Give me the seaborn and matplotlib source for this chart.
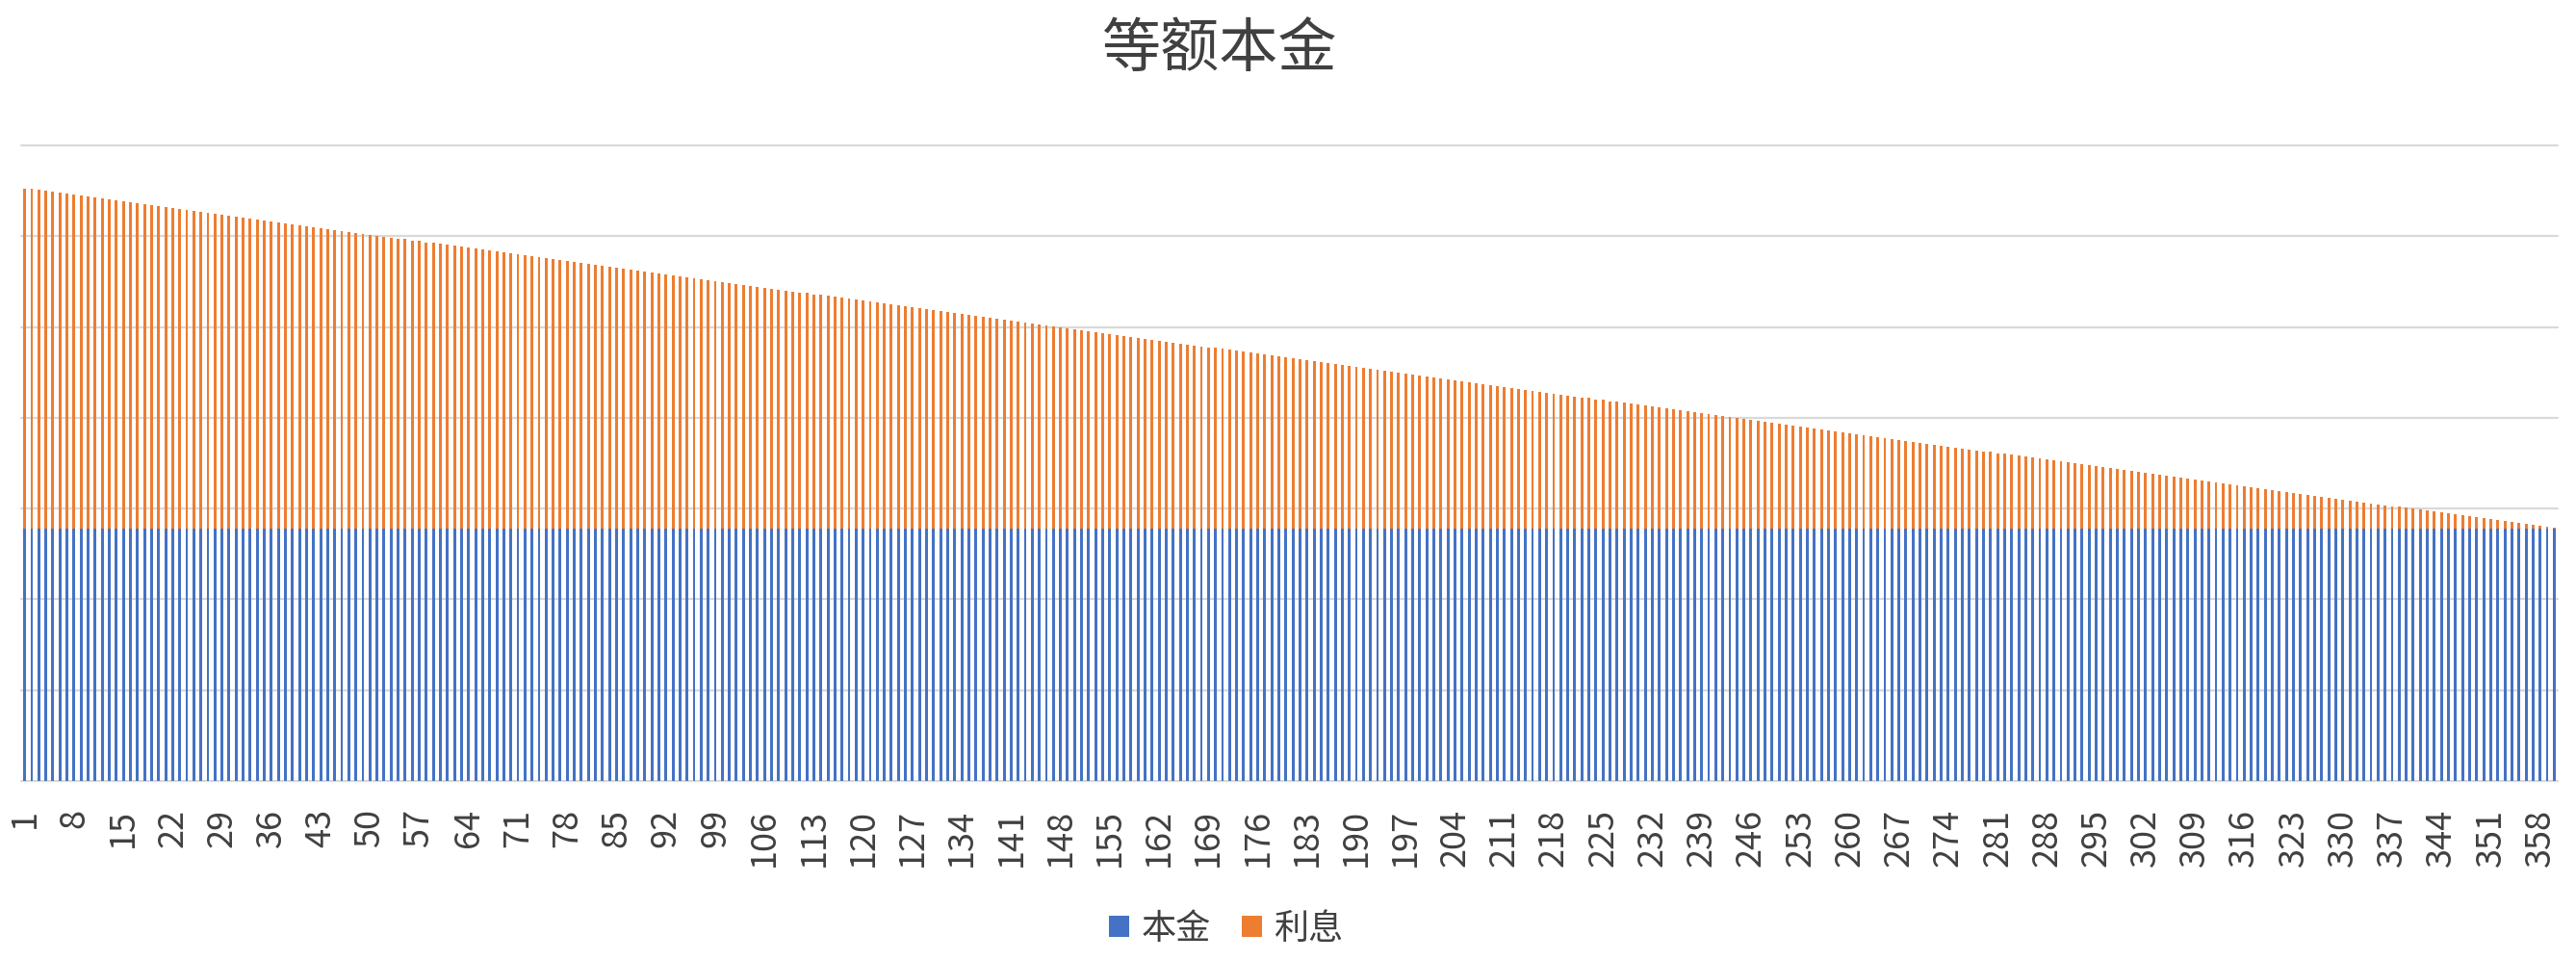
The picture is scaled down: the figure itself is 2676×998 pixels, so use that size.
import matplotlib
matplotlib.use("Agg")
import matplotlib.pyplot as plt
from matplotlib.patches import Patch
import seaborn as sns
import pandas as pd

# ---------------- data ----------------
title = "等额本金"
series_names = ["本金", "利息"]
months = list(range(1, 361))

principal = [
    2778, 2778, 2778, 2778, 2778, 2778, 2778, 2778, 2778, 2778, 2778, 2778,
    2778, 2778, 2778, 2778, 2778, 2778, 2778, 2778, 2778, 2778, 2778, 2778,
    2778, 2778, 2778, 2778, 2778, 2778, 2778, 2778, 2778, 2778, 2778, 2778,
    2778, 2778, 2778, 2778, 2778, 2778, 2778, 2778, 2778, 2778, 2778, 2778,
    2778, 2778, 2778, 2778, 2778, 2778, 2778, 2778, 2778, 2778, 2778, 2778,
    2778, 2778, 2778, 2778, 2778, 2778, 2778, 2778, 2778, 2778, 2778, 2778,
    2778, 2778, 2778, 2778, 2778, 2778, 2778, 2778, 2778, 2778, 2778, 2778,
    2778, 2778, 2778, 2778, 2778, 2778, 2778, 2778, 2778, 2778, 2778, 2778,
    2778, 2778, 2778, 2778, 2778, 2778, 2778, 2778, 2778, 2778, 2778, 2778,
    2778, 2778, 2778, 2778, 2778, 2778, 2778, 2778, 2778, 2778, 2778, 2778,
    2778, 2778, 2778, 2778, 2778, 2778, 2778, 2778, 2778, 2778, 2778, 2778,
    2778, 2778, 2778, 2778, 2778, 2778, 2778, 2778, 2778, 2778, 2778, 2778,
    2778, 2778, 2778, 2778, 2778, 2778, 2778, 2778, 2778, 2778, 2778, 2778,
    2778, 2778, 2778, 2778, 2778, 2778, 2778, 2778, 2778, 2778, 2778, 2778,
    2778, 2778, 2778, 2778, 2778, 2778, 2778, 2778, 2778, 2778, 2778, 2778,
    2778, 2778, 2778, 2778, 2778, 2778, 2778, 2778, 2778, 2778, 2778, 2778,
    2778, 2778, 2778, 2778, 2778, 2778, 2778, 2778, 2778, 2778, 2778, 2778,
    2778, 2778, 2778, 2778, 2778, 2778, 2778, 2778, 2778, 2778, 2778, 2778,
    2778, 2778, 2778, 2778, 2778, 2778, 2778, 2778, 2778, 2778, 2778, 2778,
    2778, 2778, 2778, 2778, 2778, 2778, 2778, 2778, 2778, 2778, 2778, 2778,
    2778, 2778, 2778, 2778, 2778, 2778, 2778, 2778, 2778, 2778, 2778, 2778,
    2778, 2778, 2778, 2778, 2778, 2778, 2778, 2778, 2778, 2778, 2778, 2778,
    2778, 2778, 2778, 2778, 2778, 2778, 2778, 2778, 2778, 2778, 2778, 2778,
    2778, 2778, 2778, 2778, 2778, 2778, 2778, 2778, 2778, 2778, 2778, 2778,
    2778, 2778, 2778, 2778, 2778, 2778, 2778, 2778, 2778, 2778, 2778, 2778,
    2778, 2778, 2778, 2778, 2778, 2778, 2778, 2778, 2778, 2778, 2778, 2778,
    2778, 2778, 2778, 2778, 2778, 2778, 2778, 2778, 2778, 2778, 2778, 2778,
    2778, 2778, 2778, 2778, 2778, 2778, 2778, 2778, 2778, 2778, 2778, 2778,
    2778, 2778, 2778, 2778, 2778, 2778, 2778, 2778, 2778, 2778, 2778, 2778,
    2778, 2778, 2778, 2778, 2778, 2778, 2778, 2778, 2778, 2778, 2778, 2778,
]

interest = [
    3750, 3740, 3729, 3719, 3708, 3698, 3688, 3677, 3667, 3656, 3646, 3635,
    3625, 3615, 3604, 3594, 3583, 3573, 3563, 3552, 3542, 3531, 3521, 3510,
    3500, 3490, 3479, 3469, 3458, 3448, 3438, 3427, 3417, 3406, 3396, 3385,
    3375, 3365, 3354, 3344, 3333, 3323, 3313, 3302, 3292, 3281, 3271, 3260,
    3250, 3240, 3229, 3219, 3208, 3198, 3188, 3177, 3167, 3156, 3146, 3135,
    3125, 3115, 3104, 3094, 3083, 3073, 3063, 3052, 3042, 3031, 3021, 3010,
    3000, 2990, 2979, 2969, 2958, 2948, 2938, 2927, 2917, 2906, 2896, 2885,
    2875, 2865, 2854, 2844, 2833, 2823, 2813, 2802, 2792, 2781, 2771, 2760,
    2750, 2740, 2729, 2719, 2708, 2698, 2688, 2677, 2667, 2656, 2646, 2635,
    2625, 2615, 2604, 2594, 2583, 2573, 2563, 2552, 2542, 2531, 2521, 2510,
    2500, 2490, 2479, 2469, 2458, 2448, 2438, 2427, 2417, 2406, 2396, 2385,
    2375, 2365, 2354, 2344, 2333, 2323, 2313, 2302, 2292, 2281, 2271, 2260,
    2250, 2240, 2229, 2219, 2208, 2198, 2188, 2177, 2167, 2156, 2146, 2135,
    2125, 2115, 2104, 2094, 2083, 2073, 2063, 2052, 2042, 2031, 2021, 2010,
    2000, 1990, 1979, 1969, 1958, 1948, 1938, 1927, 1917, 1906, 1896, 1885,
    1875, 1865, 1854, 1844, 1833, 1823, 1813, 1802, 1792, 1781, 1771, 1760,
    1750, 1740, 1729, 1719, 1708, 1698, 1688, 1677, 1667, 1656, 1646, 1635,
    1625, 1615, 1604, 1594, 1583, 1573, 1563, 1552, 1542, 1531, 1521, 1510,
    1500, 1490, 1479, 1469, 1458, 1448, 1438, 1427, 1417, 1406, 1396, 1385,
    1375, 1365, 1354, 1344, 1333, 1323, 1313, 1302, 1292, 1281, 1271, 1260,
    1250, 1240, 1229, 1219, 1208, 1198, 1188, 1177, 1167, 1156, 1146, 1135,
    1125, 1115, 1104, 1094, 1083, 1073, 1063, 1052, 1042, 1031, 1021, 1010,
    1000, 990, 979, 969, 958, 948, 938, 927, 917, 906, 896, 885,
    875, 865, 854, 844, 833, 823, 813, 802, 792, 781, 771, 760,
    750, 740, 729, 719, 708, 698, 688, 677, 667, 656, 646, 635,
    625, 615, 604, 594, 583, 573, 563, 552, 542, 531, 521, 510,
    500, 490, 479, 469, 458, 448, 438, 427, 417, 406, 396, 385,
    375, 365, 354, 344, 333, 323, 313, 302, 292, 281, 271, 260,
    250, 240, 229, 219, 208, 198, 188, 177, 167, 156, 146, 135,
    125, 115, 104, 94, 83, 73, 63, 52, 42, 31, 21, 10,
]

label_every = 7
y_max = 7000
y_step = 1000

# ---------------- style ----------------
BLUE = "#4472C4"
ORANGE = "#ED7D31"
GRID = "#D9D9D9"
TEXT = "#404040"

sns.set_theme(style="white")
plt.rcParams["font.family"] = ["Noto Sans CJK SC", "DejaVu Sans"]

df = pd.DataFrame({"month": months, "principal": principal, "interest": interest})
df["total"] = df["principal"] + df["interest"]

fig = plt.figure(figsize=(26.76, 9.98), dpi=100)
ax = fig.add_axes([22 / 2676, 1 - 811 / 998, (2657 - 22) / 2676, (811 - 151) / 998])

# stacked: total (orange) underneath, principal (blue) over it
sns.barplot(data=df, x="month", y="total", color=ORANGE, saturation=1,
            width=0.4, linewidth=0, ax=ax, errorbar=None)
sns.barplot(data=df, x="month", y="principal", color=BLUE, saturation=1,
            width=0.4, linewidth=0, ax=ax, errorbar=None)

ax.set_ylim(0, y_max)
ax.set_yticks(range(0, y_max + 1, y_step))
ax.set_yticklabels([])
ax.yaxis.grid(True, color=GRID, linewidth=1.6)
ax.set_axisbelow(True)
for gl in ax.get_ygridlines():
    gl.set_clip_on(False)
for s in ax.spines.values():
    s.set_visible(False)

ticks = list(range(0, len(months), label_every))
ax.set_xticks(ticks)
ax.set_xticklabels([str(months[i]) for i in ticks], rotation=90,
                   fontsize=26, color=TEXT)
ax.tick_params(axis="x", length=0, pad=21)
ax.tick_params(axis="y", length=0)
ax.set_xlabel("")
ax.set_ylabel("")

fig.text(1266 / 2676, 1 - 52 / 998, title, ha="center", va="center",
         fontsize=44, color=TEXT)

handles = [Patch(facecolor=BLUE, edgecolor="none", label=series_names[0]),
           Patch(facecolor=ORANGE, edgecolor="none", label=series_names[1])]
fig.legend(handles=handles, loc="center", bbox_to_anchor=(1274 / 2676, 1 - 965 / 998),
           ncol=2, frameon=False, fontsize=26, handlelength=0.57, handleheight=0.57,
           handletextpad=0.35, columnspacing=0.9, labelcolor=TEXT)

fig.savefig("out.png", dpi=100)
